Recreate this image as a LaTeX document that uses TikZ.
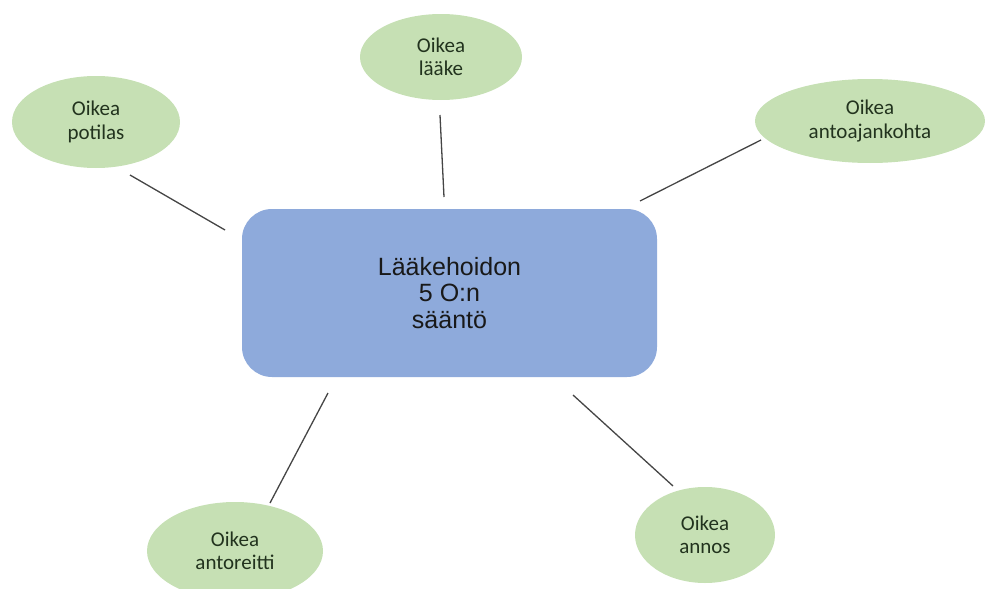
\documentclass[tikz,border=0pt]{standalone}
\usepackage{fontspec}
\setmainfont{Carlito}
\newfontfamily\arialfont{Liberation Sans}
\usetikzlibrary{positioning,shapes.geometric}
\definecolor{oliight}{HTML}{C6E0B4}
\definecolor{oblue}{HTML}{8EAADB}
\definecolor{otext}{HTML}{22331E}
\definecolor{oline}{HTML}{454545}

\begin{document}
\begin{tikzpicture}[x=1pt, y=-1pt,
  oval/.style={ellipse, fill=oliight, inner sep=0pt, align=center,
    font=\fontsize{21}{23.5}\selectfont\color{otext}},
  rulebox/.style={rectangle, rounded corners=30pt, fill=oblue, inner sep=0pt,
    minimum width=415pt, minimum height=168pt, align=center,
    font=\arialfont\fontsize{25}{26.5}\selectfont\color{black!90}},
  spoke/.style={draw=oline, line width=1.3pt},
]
\useasboundingbox (0,0) rectangle (986,589);

% keskimmainen laatikko
\node[rulebox] (saanto) at (449.5,293) {Lääkehoidon\\5 O:n\\sääntö};

% viisi oikeaa
\node[oval, minimum width=168pt, minimum height=92pt] (potilas) at (96,122) {Oikea\\potilas};
\node[oval, minimum width=162pt, minimum height=86pt] (laake) at (441,57) {Oikea\\lääke};
\node[oval, minimum width=230pt, minimum height=84pt] (ajankohta) at (870,121) {Oikea\\antoajankohta};
\node[oval, minimum width=176pt, minimum height=98pt] (reitti) at (235,551) {Oikea\\antoreitti};
\node[oval, minimum width=140pt, minimum height=96pt] (annos) at (705,535) {Oikea\\annos};

% viivojen paat
\coordinate (potilas-a) at (130,175);   \coordinate (potilas-b) at (225,230);
\coordinate (laake-a) at (440,115);     \coordinate (laake-b) at (444,197);
\coordinate (ajankohta-a) at (761,140); \coordinate (ajankohta-b) at (640,201);
\coordinate (reitti-a) at (270,503);    \coordinate (reitti-b) at (328,393);
\coordinate (annos-a) at (673,486);     \coordinate (annos-b) at (573,395);

\foreach \n in {potilas,laake,ajankohta,reitti,annos}
  \draw[spoke] (\n-a) -- (\n-b);
\end{tikzpicture}
\end{document}
